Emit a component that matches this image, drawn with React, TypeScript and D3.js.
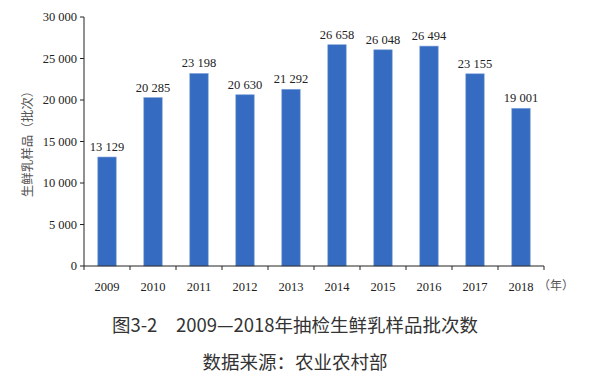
import React from "react";
import * as d3 from "d3";

const years = ["2009", "2010", "2011", "2012", "2013", "2014", "2015", "2016", "2017", "2018"];
const values = [13129, 20285, 23198, 20630, 21292, 26658, 26048, 26494, 23155, 19001];
const yTicks = [0, 5000, 10000, 15000, 20000, 25000, 30000];
const yLabel = "生鲜乳样品（批次）";
const xUnit = "（年）";
const title = "图3-2\u30002009—2018年抽检生鲜乳样品批次数";
const source = "数据来源：农业农村部";

const fmt = (v: number) => {
  const s = String(v);
  return s.length > 3 ? s.slice(0, s.length - 3) + " " + s.slice(s.length - 3) : s;
};

export default function App() {
  const W = 612, H = 381;
  const left = 84, right = 544, top = 17, bottom = 266;
  const x = d3.scaleBand<string>().domain(years).range([left, right]).paddingInner(0.6).paddingOuter(0.3);
  const xb = d3.scaleBand<string>().domain(years).range([left, right]);
  const y = d3.scaleLinear().domain([0, 30000]).range([bottom, top]);
  const serif = { fontFamily: '"Liberation Serif", "Times New Roman", Times, serif' };
  const sans = { fontFamily: '"Noto Sans CJK SC", "Noto Sans", sans-serif' };
  return (
    <svg width={W} height={H} style={{ position: "absolute", left: 0, top: 0, background: "#fff" }}>
      <g>
        {years.map((yr, i) => (
          <rect key={yr} x={x(yr)} y={y(values[i])} width={x.bandwidth()} height={bottom - y(values[i])}
            fill="#356BC0" stroke="#7FA2DA" strokeWidth={0.6} />
        ))}
        {years.map((yr, i) => (
          <text key={"v" + yr} x={(x(yr) as number) + x.bandwidth() / 2} y={y(values[i]) - 6}
            textAnchor="middle" style={serif} fontSize={12.5} fill="#222">{fmt(values[i])}</text>
        ))}
        <line x1={left} x2={left} y1={top} y2={bottom} stroke="#222" strokeWidth={1} />
        {yTicks.map((t) => (
          <g key={t}>
            <line x1={left - 4} x2={left} y1={y(t)} y2={y(t)} stroke="#222" />
            <text x={left - 7} y={y(t)} dy="0.35em" textAnchor="end" style={serif} fontSize={12.5} fill="#222">{fmt(t)}</text>
          </g>
        ))}
        <line x1={left} x2={right} y1={bottom} y2={bottom} stroke="#222" />
        {years.map((yr) => (
          <line key={"t" + yr} x1={(xb(yr) as number)} x2={(xb(yr) as number)} y1={bottom} y2={bottom + 4} stroke="#222" />
        ))}
        <line x1={right} x2={right} y1={bottom} y2={bottom + 4} stroke="#222" />
        {years.map((yr) => (
          <text key={"x" + yr} x={(xb(yr) as number) + xb.bandwidth() / 2} y={291} textAnchor="middle"
            style={serif} fontSize={12.5} fill="#222">{yr}</text>
        ))}
        <text x={538} y={290} style={sans} fontSize={12} fill="#555">{xUnit}</text>
        <text transform={`translate(28,${(85 + 197) / 2}) rotate(-90)`} textAnchor="middle" dy="0.35em"
          style={sans} fontSize={12.5} fill="#555">{yLabel}</text>
        <text x={295} y={332} textAnchor="middle" style={sans} fontSize={18.5} fill="#333">{title}</text>
        <text x={295} y={369} textAnchor="middle" style={sans} fontSize={18.5} fill="#333">{source}</text>
      </g>
    </svg>
  );
}
